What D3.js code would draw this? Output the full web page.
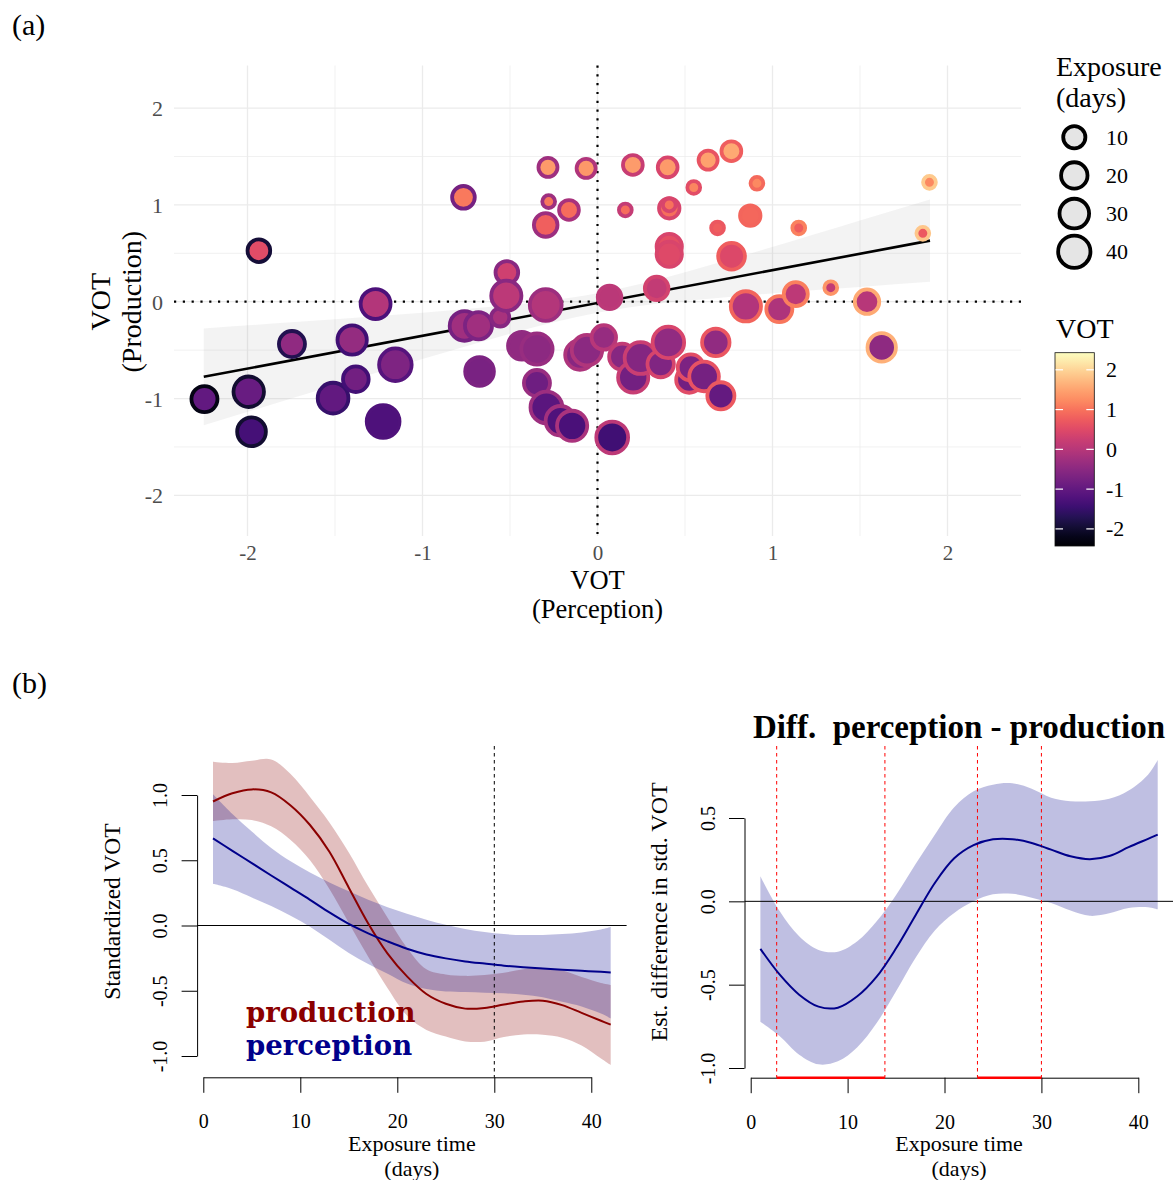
<!DOCTYPE html>
<html><head><meta charset="utf-8">
<script src="https://cdn.jsdelivr.net/npm/d3@7"></script>
<style>
body{margin:0;background:#fff}
svg text{font-family:"Liberation Serif","Times New Roman",serif}
</style>
</head><body>
<svg id="c" width="1173" height="1180"></svg>
<script>
// ================= DATA =================
// Panel (a): one point per participant x session
const perceptionVOT = [-2.246,-1.993,-1.977,-1.935,-1.746,-1.511,-1.402,-1.381,-1.268,-1.225,-1.155,-0.766,-0.76,-0.68,-0.674,-0.556,-0.518,-0.521,-0.432,-0.346,-0.346,-0.296,-0.292,-0.283,-0.279,-0.296,-0.163,-0.212,-0.145,-0.065,-0.10,-0.06,0.036,0.069,0.084,0.141,0.159,0.202,0.204,0.246,0.338,0.361,0.401,0.405,0.41,0.41,0.41,0.41,0.524,0.533,0.55,0.609,0.632,0.676,0.686,0.705,0.765,0.766,0.848,0.873,0.911,1.039,1.133,1.15,1.333,1.54,1.624,1.859,1.897];
const productionVOT = [-1.006,-0.93,-1.344,0.527,-0.437,-0.996,-0.396,-0.80,-0.024,-1.237,-0.651,1.078,-0.25,-0.248,-0.72,-0.162,0.303,0.062,-0.455,-0.489,-0.84,-0.034,-1.092,1.388,1.034,0.793,0.948,-1.23,-1.282,1.378,-0.55,-0.5,-0.369,0.045,-1.402,-0.568,0.948,1.413,-0.782,-0.582,0.138,-0.644,1.388,-0.42,0.965,1.0,0.57,0.49,-0.806,-0.679,1.18,-0.772,1.463,-0.42,0.762,-0.972,1.555,0.47,-0.048,0.889,1.223,-0.076,0.079,0.762,0.145,0.0,-0.472,0.706,1.233];
const exposureDays = [19,33,27,11,19,34,29,18,31,42,41,11,30,22,27,4,11,32,24,36,19,38,38,5,1,13,6,30,32,5,30,33,15,13,38,19,1,6,32,38,13,20,6,37,7,1,17,17,19,19,1,30,5,23,1,22,6,21,32,7,1,19,14,1,1,15,26,1,1];
const fitX = [-2.25, 1.9];
const fitY = [-0.776, 0.631];
const bandX  = [-2.25,-1.75,-1.25,-0.75,-0.25,0,0.25,0.75,1.25,1.5,1.9];
const bandLo = [-1.276,-1.000,-0.727,-0.459,-0.212,-0.113,-0.042,0.049,0.121,0.153,0.205];
const bandHi = [-0.276,-0.212,-0.147,-0.075,0.016,0.087,0.186,0.433,0.701,0.838,1.057];
const axisTicksA = [-2,-1,0,1,2];
const legendDays = [10,20,30,40];
const colorbarTicks = [-2,-1,0,1,2];

// Panel (b): smooth fits over exposure days
const days = [1,3,5,7,9,11,13,15,17,19,21,23,25,27,29,31,33,35,37,39,41,42];
const prodFit = [0.95,1.013,1.043,1.02,0.92,0.77,0.565,0.29,0.016,-0.215,-0.39,-0.525,-0.60,-0.637,-0.632,-0.605,-0.582,-0.576,-0.61,-0.67,-0.73,-0.76];
const prodHi  = [1.255,1.245,1.262,1.272,1.16,0.985,0.79,0.56,0.30,0.06,-0.17,-0.335,-0.375,-0.386,-0.38,-0.362,-0.335,-0.325,-0.345,-0.395,-0.44,-0.455];
const prodLo  = [0.80,0.814,0.808,0.76,0.655,0.50,0.28,0.02,-0.24,-0.48,-0.69,-0.80,-0.85,-0.888,-0.89,-0.855,-0.835,-0.837,-0.86,-0.92,-1.02,-1.07];
const percFit = [0.668,0.572,0.478,0.383,0.29,0.197,0.10,0.012,-0.06,-0.122,-0.178,-0.222,-0.252,-0.275,-0.292,-0.308,-0.32,-0.33,-0.339,-0.347,-0.355,-0.36];
const percHi  = [1.006,0.855,0.72,0.594,0.492,0.406,0.33,0.262,0.197,0.14,0.09,0.045,0.005,-0.027,-0.05,-0.066,-0.073,-0.072,-0.065,-0.053,-0.03,-0.012];
const percLo  = [0.319,0.278,0.215,0.15,0.075,-0.01,-0.11,-0.21,-0.295,-0.37,-0.445,-0.487,-0.506,-0.51,-0.515,-0.52,-0.53,-0.55,-0.585,-0.62,-0.675,-0.712];
const diffFit = [-0.285,-0.44,-0.56,-0.632,-0.638,-0.57,-0.452,-0.282,-0.085,0.11,0.258,0.337,0.372,0.373,0.35,0.31,0.27,0.253,0.272,0.325,0.375,0.40];
const diffHi  = [0.15,-0.06,-0.21,-0.292,-0.302,-0.24,-0.12,0.038,0.222,0.40,0.565,0.66,0.70,0.708,0.676,0.622,0.601,0.60,0.615,0.665,0.76,0.848];
const diffLo  = [-0.722,-0.81,-0.92,-0.978,-0.96,-0.875,-0.73,-0.54,-0.34,-0.175,-0.07,0.0,0.042,0.045,0.022,-0.01,-0.055,-0.087,-0.072,-0.04,-0.035,-0.048];
const sigStart = [2.68, 23.4];
const sigEnd   = [13.85, 30.0];
const dayTicks = [0,10,20,30,40];
const leftYTicks = [-1,-0.5,0,0.5,1];
const rightYTicks = [-1,-0.5,0,0.5];

// ================= DRAW =================
const svg = d3.select("#c");
const FONT = '"Liberation Serif","Times New Roman",serif';
const defs = svg.append("defs");

// ---------- Panel (a)
const xA = d3.scaleLinear().domain([-2.42, 2.42]).range([174, 1021]);
const yA = d3.scaleLinear().domain([-2.42, 2.44]).range([536, 65.5]);
const vot = d3.scaleSequential(d3.interpolateMagma).domain([-2.43, 2.43]);
const rA = d3.scaleSqrt().domain([0, 41]).range([8.3, 18.3]);
const SW = 3.8;

svg.append("text").attr("x", 12).attr("y", 35).attr("font-size", 30).text("(a)");

const gA = svg.append("g");
const minorA = [-1.5,-0.5,0.5,1.5];
gA.selectAll(".vmin").data(minorA).join("line")
  .attr("x1", d=>xA(d)).attr("x2", d=>xA(d)).attr("y1", yA.range()[1]).attr("y2", yA.range()[0])
  .attr("stroke", "#ebebeb").attr("stroke-width", 0.7);
gA.selectAll(".hmin").data(minorA).join("line")
  .attr("y1", d=>yA(d)).attr("y2", d=>yA(d)).attr("x1", xA.range()[0]).attr("x2", xA.range()[1])
  .attr("stroke", "#ebebeb").attr("stroke-width", 0.7);
gA.selectAll(".vmaj").data(axisTicksA).join("line")
  .attr("x1", d=>xA(d)).attr("x2", d=>xA(d)).attr("y1", yA.range()[1]).attr("y2", yA.range()[0])
  .attr("stroke", "#ebebeb").attr("stroke-width", 1.3);
gA.selectAll(".hmaj").data(axisTicksA).join("line")
  .attr("y1", d=>yA(d)).attr("y2", d=>yA(d)).attr("x1", xA.range()[0]).attr("x2", xA.range()[1])
  .attr("stroke", "#ebebeb").attr("stroke-width", 1.3);

// regression band and line
const bandData = bandX.map((x,i)=>({x, lo: bandLo[i], hi: bandHi[i]}));
gA.append("path").datum(bandData)
  .attr("d", d3.area().x(d=>xA(d.x)).y0(d=>yA(d.lo)).y1(d=>yA(d.hi)).curve(d3.curveMonotoneX))
  .attr("fill", "#999").attr("fill-opacity", 0.12);
gA.append("path").datum(fitX.map((x,i)=>({x, y: fitY[i]})))
  .attr("d", d3.line().x(d=>xA(d.x)).y(d=>yA(d.y)))
  .attr("stroke", "#000").attr("stroke-width", 2.6).attr("fill", "none");

// zero dotted lines
gA.append("line").attr("x1", xA(0)).attr("x2", xA(0)).attr("y1", yA.range()[1]).attr("y2", yA.range()[0])
  .attr("stroke", "#000").attr("stroke-width", 2.2).attr("stroke-dasharray", "2.2,6.6");
gA.append("line").attr("y1", yA(0)).attr("y2", yA(0)).attr("x1", xA.range()[0]).attr("x2", xA.range()[1])
  .attr("stroke", "#000").attr("stroke-width", 2.2).attr("stroke-dasharray", "2.2,6.6");

// points
const pts = perceptionVOT.map((x,i)=>({x, y: productionVOT[i], d: exposureDays[i]}));
gA.selectAll(".pt").data(pts).join("circle")
  .attr("cx", d=>xA(d.x)).attr("cy", d=>yA(d.y)).attr("r", d=>rA(d.d-1)-SW/2)
  .attr("fill", d=>vot(d.y)).attr("stroke", d=>vot(d.x)).attr("stroke-width", SW);

// axes (a)
const axA = gA.append("g").attr("transform", `translate(0,${yA.range()[0]})`)
  .call(d3.axisBottom(xA).tickValues(axisTicksA).tickSize(0).tickFormat(d=>String(d)));
axA.select(".domain").remove();
axA.selectAll("text").attr("y", 24).attr("dy", 0).attr("font-size", 21).attr("fill", "#4d4d4d").attr("font-family", FONT);
const ayA = gA.append("g").attr("transform", `translate(${xA.range()[0]},0)`)
  .call(d3.axisLeft(yA).tickValues(axisTicksA).tickSize(0).tickFormat(d=>String(d)));
ayA.select(".domain").remove();
ayA.selectAll("text").attr("x", -11).attr("dy", 7.5).attr("font-size", 22).attr("fill", "#4d4d4d").attr("font-family", FONT);

gA.append("text").attr("x", xA(0)).attr("y", 589).attr("text-anchor","middle").attr("font-size", 26.5).text("VOT");
gA.append("text").attr("x", xA(0)).attr("y", 618).attr("text-anchor","middle").attr("font-size", 26.5).text("(Perception)");
gA.append("text").attr("transform", `translate(109.5,${yA(0)}) rotate(-90)`).attr("text-anchor","middle").attr("font-size", 28).text("VOT");
gA.append("text").attr("transform", `translate(140.5,${yA(0)}) rotate(-90)`).attr("text-anchor","middle").attr("font-size", 28).text("(Production)");

// size legend
const lg = svg.append("g");
lg.append("text").attr("x", 1056).attr("y", 75.5).attr("font-size", 28).text("Exposure");
lg.append("text").attr("x", 1056).attr("y", 106.5).attr("font-size", 28).text("(days)");
const legY = d3.scalePoint().domain(legendDays).range([137.3, 251.7]);
lg.selectAll(".lc").data(legendDays).join("circle")
  .attr("cx", 1074.3).attr("cy", d=>legY(d)).attr("r", d=>rA(d-1)-SW/2)
  .attr("fill", "#e5e5e5").attr("stroke", "#000").attr("stroke-width", SW);
lg.selectAll(".lt").data(legendDays).join("text")
  .attr("x", 1106).attr("y", d=>legY(d)+7.5).attr("font-size", 22).text(d=>d);

// colorbar
lg.append("text").attr("x", 1056).attr("y", 338).attr("font-size", 28).text("VOT");
const cb = d3.scaleLinear().domain(vot.domain()).range([546, 352.7]);
const grad = defs.append("linearGradient").attr("id","vg").attr("x1",0).attr("y1",1).attr("x2",0).attr("y2",0);
d3.range(0, 21).forEach(i=>{
  grad.append("stop").attr("offset", i/20).attr("stop-color", vot(vot.domain()[0] + (vot.domain()[1]-vot.domain()[0])*i/20));
});
lg.append("rect").attr("x", 1055).attr("y", cb.range()[1]).attr("width", 39.3).attr("height", cb.range()[0]-cb.range()[1])
  .attr("fill", "url(#vg)").attr("stroke", "#111").attr("stroke-width", 0.8);
colorbarTicks.forEach(v=>{
  lg.append("line").attr("x1",1055.5).attr("x2",1063).attr("y1",cb(v)).attr("y2",cb(v)).attr("stroke","#fff").attr("stroke-width",1.2);
  lg.append("line").attr("x1",1086.3).attr("x2",1093.8).attr("y1",cb(v)).attr("y2",cb(v)).attr("stroke","#fff").attr("stroke-width",1.2);
});
lg.selectAll(".cbt").data(colorbarTicks).join("text")
  .attr("x", 1106).attr("y", d=>cb(d)+7.5).attr("font-size", 22).text(d=>String(d));

// ---------- Panel (b)
svg.append("text").attr("x", 12).attr("y", 693).attr("font-size", 30).text("(b)");
const TOP = 746;
const DARKRED = "#8b0000", DARKBLUE = "#00008b";

function dayAxis(g, xs, yPos) {
  const xa = xs.copy().domain([0,40]).range([xs(0), xs(40)]);
  const ax = g.append("g").attr("transform", `translate(0,${yPos})`)
    .call(d3.axisBottom(xa).tickValues(dayTicks).tickSize(15.5).tickSizeOuter(0));
  ax.attr("font-family", FONT).attr("font-size", 20).attr("color", "#000");
  ax.selectAll("text").attr("y", 51).attr("dy", 0).attr("font-size", 20);
  const cx = (xs.range()[0] + xs.range()[1]) / 2;
  g.append("text").attr("x", cx).attr("y", yPos + 73.7).attr("text-anchor","middle").attr("font-size", 22).text("Exposure time");
  g.append("text").attr("x", cx).attr("y", yPos + 98.2).attr("text-anchor","middle").attr("font-size", 22).text("(days)");
}
function valAxis(g, ys, ticks, xPos, fmt) {
  const ax = g.append("g").attr("transform", `translate(${xPos},0)`)
    .call(d3.axisLeft(ys).tickValues(ticks).tickSize(15.5).tickSizeOuter(0).tickFormat(fmt));
  ax.attr("font-family", FONT).attr("font-size", 20).attr("color", "#000");
  ax.selectAll("text").attr("transform", "rotate(-90)").attr("x", 0).attr("y", -29.8).attr("dy", 0)
    .attr("text-anchor", "middle").attr("font-size", 20);
}
const fmt1 = d => d3.format(".1f")(d).replace("−", "-");
const areaOf = (xs, ys, lo, hi) => d3.area().x((d,i)=>xs(days[i])).y0((d,i)=>ys(lo[i])).y1((d,i)=>ys(hi[i])).curve(d3.curveCatmullRom);
const lineOf = (xs, ys, v) => d3.line().x((d,i)=>xs(days[i])).y((d,i)=>ys(v[i])).curve(d3.curveCatmullRom);

// left plot
const xL = d3.scaleLinear().domain([-0.64, 43.64]).range([197.1, 626.6]);
const yL = d3.scaleLinear().domain([-1, 1]).range([1056, 795]);
const BOT_L = 1077.3;
const gL = svg.append("g");
gL.append("path").datum(days).attr("d", areaOf(xL, yL, prodLo, prodHi)).attr("fill", DARKRED).attr("fill-opacity", 0.25);
gL.append("path").datum(days).attr("d", areaOf(xL, yL, percLo, percHi)).attr("fill", DARKBLUE).attr("fill-opacity", 0.25);
gL.append("line").attr("x1", xL.range()[0]).attr("x2", xL.range()[1]).attr("y1", yL(0)).attr("y2", yL(0)).attr("stroke", "#000").attr("stroke-width", 1);
gL.append("line").attr("x1", xL(30)).attr("x2", xL(30)).attr("y1", TOP).attr("y2", BOT_L).attr("stroke", "#000").attr("stroke-width", 1).attr("stroke-dasharray", "3.5,3.5");
gL.append("path").datum(days).attr("d", lineOf(xL, yL, prodFit)).attr("fill","none").attr("stroke", DARKRED).attr("stroke-width", 2);
gL.append("path").datum(days).attr("d", lineOf(xL, yL, percFit)).attr("fill","none").attr("stroke", DARKBLUE).attr("stroke-width", 2);
valAxis(gL, yL, leftYTicks, xL.range()[0], fmt1);
dayAxis(gL, xL, BOT_L);
gL.append("text").attr("transform", `translate(120,${(TOP+BOT_L)/2}) rotate(-90)`).attr("text-anchor","middle").attr("font-size", 23.5).text("Standardized VOT");
gL.append("text").attr("x", xL(4.4)).attr("y", yL(-0.737)).attr("font-size", 27.5).attr("font-weight","bold")
  .attr("font-family", '"DejaVu Serif",serif').style("font-family", '"DejaVu Serif",serif').attr("fill", DARKRED).text("production");
gL.append("text").attr("x", xL(4.4)).attr("y", yL(-0.992)).attr("font-size", 27.5).attr("font-weight","bold")
  .attr("font-family", '"DejaVu Serif",serif').style("font-family", '"DejaVu Serif",serif').attr("fill", DARKBLUE).text("perception");

// right plot
const xR = d3.scaleLinear().domain([-0.64, 43.64]).range([744.5, 1173.6]);
const yR = d3.scaleLinear().domain([-1, 0.5]).range([1068, 818]);
const BOT_R = 1077.7;
const gR = svg.append("g");
gR.append("path").datum(days).attr("d", areaOf(xR, yR, diffLo, diffHi)).attr("fill", DARKBLUE).attr("fill-opacity", 0.25);
gR.append("line").attr("x1", xR.range()[0]).attr("x2", xR.range()[1]).attr("y1", yR(0)).attr("y2", yR(0)).attr("stroke", "#000").attr("stroke-width", 1);
const sigBounds = sigStart.concat(sigEnd);
gR.selectAll(".sv").data(sigBounds).join("line")
  .attr("x1", d=>xR(d)).attr("x2", d=>xR(d)).attr("y1", TOP).attr("y2", BOT_R)
  .attr("stroke", "#ff0000").attr("stroke-width", 1).attr("stroke-dasharray", "3.5,3.5");
gR.append("path").datum(days).attr("d", lineOf(xR, yR, diffFit)).attr("fill","none").attr("stroke", DARKBLUE).attr("stroke-width", 2);
valAxis(gR, yR, rightYTicks, xR.range()[0], fmt1);
dayAxis(gR, xR, BOT_R);
gR.selectAll(".seg").data(sigStart).join("line")
  .attr("x1", d=>xR(d)).attr("x2", (d,i)=>xR(sigEnd[i])).attr("y1", BOT_R).attr("y2", BOT_R)
  .attr("stroke", "#ff0000").attr("stroke-width", 2.6);
gR.append("text").attr("transform", `translate(667,${(TOP+BOT_R)/2}) rotate(-90)`).attr("text-anchor","middle").attr("font-size", 24).text("Est. difference in std. VOT");
gR.append("text").attr("x", (xR.range()[0]+xR.range()[1])/2).attr("y", 738).attr("text-anchor","middle")
  .attr("font-size", 33).attr("font-weight","bold").style("white-space","pre").text("Diff.  perception - production");
</script>
</body></html>
